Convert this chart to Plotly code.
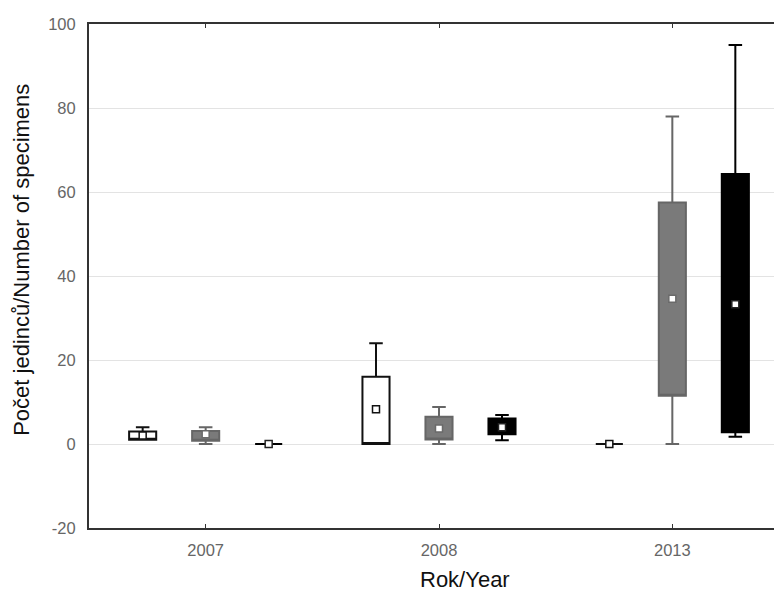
import plotly.graph_objects as go

years = ["2007", "2008", "2013"]

# Series statistics (Min, Q1, Median, Q3, Max) per year
s1_min = [1.0, 0.0, 0.0]
s1_q1 = [1.0, 0.0, 0.0]
s1_med = [2.0, 8.3, 0.0]
s1_q3 = [3.0, 16.0, 0.0]
s1_max = [4.0, 24.0, 0.0]

s2_min = [0.0, 0.0, 0.0]
s2_q1 = [0.8, 1.1, 11.5]
s2_med = [2.3, 3.7, 34.6]
s2_q3 = [3.1, 6.5, 57.5]
s2_max = [4.0, 8.8, 78.0]

s3_min = [0.0, 0.9, 1.7]
s3_q1 = [0.0, 2.3, 2.8]
s3_med = [0.0, 4.0, 33.3]
s3_q3 = [0.0, 6.1, 64.3]
s3_max = [0.0, 6.9, 95.0]

y_tickvals = [-20, 0, 20, 40, 60, 80, 100]
y_ticktext = ["-20", "0", "20", "40", "60", "80", "100"]

x_title = "Rok/Year"
y_title = "Počet jedinců/Number of specimens"

series = [
    dict(name="s1", mn=s1_min, q1=s1_q1, med=s1_med, q3=s1_q3, mx=s1_max,
         fill="#ffffff", line="#111111", mline="#111111"),
    dict(name="s2", mn=s2_min, q1=s2_q1, med=s2_med, q3=s2_q3, mx=s2_max,
         fill="#7a7a7a", line="#666666", mline="#6a6a6a"),
    dict(name="s3", mn=s3_min, q1=s3_q1, med=s3_med, q3=s3_q3, mx=s3_max,
         fill="#000000", line="#000000", mline="#222222"),
]

fig = go.Figure()
for s in series:
    # median drawn as a square marker below, so box's own median line sits on Q1
    fig.add_trace(go.Box(
        x=years, q1=s["q1"], median=s["q1"], q3=s["q3"],
        lowerfence=s["mn"], upperfence=s["mx"],
        fillcolor=s["fill"], line=dict(color=s["line"], width=2),
        whiskerwidth=0.5, boxpoints=False, hoverinfo="skip",
        showlegend=False, name=s["name"],
    ))
for s in series:
    fig.add_trace(go.Scatter(
        x=years, y=s["med"], mode="markers", name=s["name"] + " median",
        offsetgroup=s["name"], alignmentgroup="a",
        marker=dict(symbol="square", size=7, color="#ffffff",
                    line=dict(color=s["mline"], width=1.5)),
        showlegend=False,
    ))

title_font = dict(family="Liberation Sans, Arial, sans-serif", size=22, color="#111111")

fig.update_layout(
    template="none",
    width=774, height=584,
    margin=dict(l=81, r=0, t=16, b=64, autoexpand=False),
    paper_bgcolor="#ffffff", plot_bgcolor="#ffffff",
    boxmode="group", boxgap=0.19, boxgroupgap=0.57,
    scattermode="group", scattergap=0.19,
    font=dict(family="Liberation Sans, Arial, sans-serif", color="#000000"),
    showlegend=False,
    annotations=[
        dict(text=x_title, xref="paper", yref="paper", x=0.5426, y=-0.103,
             xanchor="center", yanchor="middle", showarrow=False, font=title_font),
        dict(text=y_title, xref="paper", yref="paper", x=-0.0967, y=0.532,
             xanchor="center", yanchor="middle", textangle=-90, showarrow=False,
             font=title_font),
    ],
)
fig.update_xaxes(
    type="category", range=[-0.5, 2.47], automargin=False,
    showline=True, linecolor="#333333", linewidth=2, mirror="ticks",
    ticks="inside", ticklen=4, tickcolor="#333333", tickwidth=1,
    showgrid=False, ticklabelstandoff=6,
    tickfont=dict(size=16.5, color="#666666"),
)
fig.update_yaxes(
    range=[-20, 100], tickvals=y_tickvals, ticktext=y_ticktext, automargin=False,
    showline=True, linecolor="#333333", linewidth=2,
    showgrid=True, gridcolor="#e3e3e3", gridwidth=1,
    zeroline=False, ticks="", ticklabelstandoff=8,
    tickfont=dict(size=16.5, color="#666666"),
)

fig.write_html("out.html")
